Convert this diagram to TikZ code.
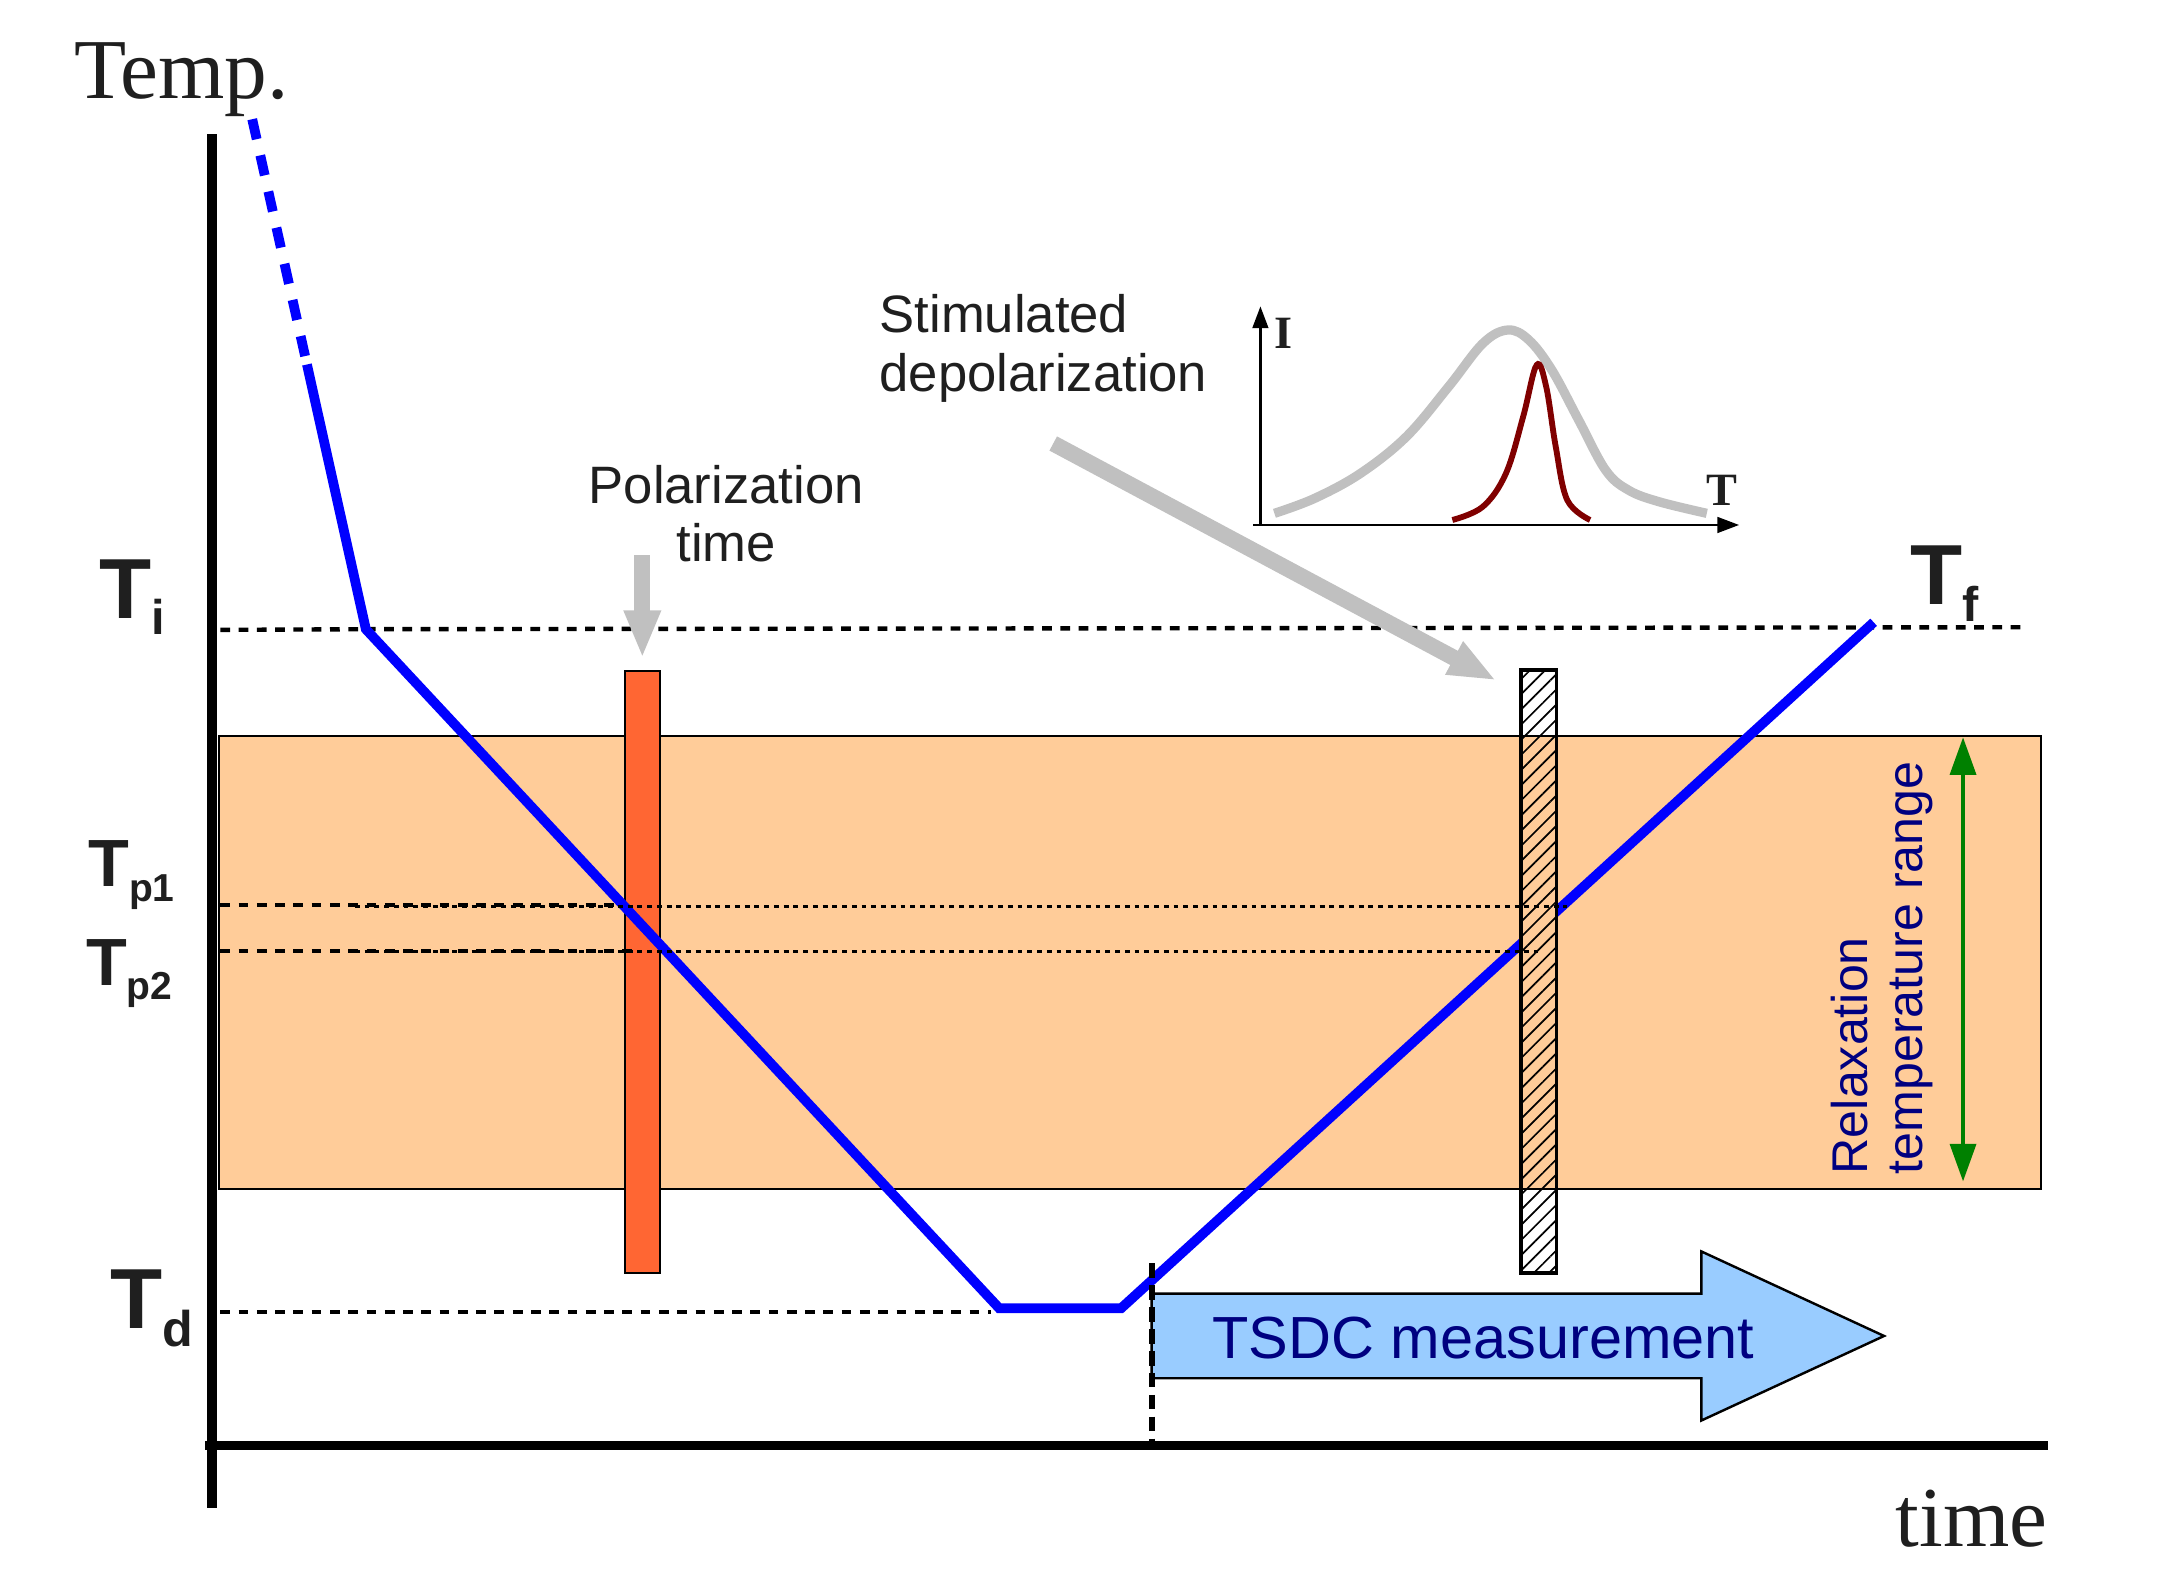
\documentclass[tikz,border=0pt]{standalone}
\usepackage{fontspec}
\setmainfont{Liberation Serif}
\setsansfont{Liberation Sans}
\usetikzlibrary{arrows.meta, patterns.meta}

\definecolor{ink}{HTML}{1F1F1F}
\definecolor{peach}{HTML}{FFCC99}
\definecolor{hotorange}{HTML}{FF6633}
\definecolor{skyblue}{HTML}{99CCFF}
\definecolor{navyblue}{HTML}{000080}
\definecolor{rangegreen}{HTML}{008000}
\definecolor{greypointer}{HTML}{C0C0C0}
\definecolor{peakred}{HTML}{800000}

\newcommand{\lowsub}[3]{\raisebox{-#1}{\fontsize{#2}{#2}\selectfont #3}}

\tikzstyle{mainaxis} = [line width=1.9pt]
\tikzstyle{inaxis} = [line width=0.6pt, -{Triangle[width=3.2pt,length=4.5pt]}]
\tikzstyle{ramp} = [blue, line width=2pt]
\tikzstyle{rampdash} = [ramp, dash pattern=on 4.2pt off 3.4pt]
\tikzstyle{levelline} = [line width=0.9pt, dash pattern=on 2pt off 1.75pt]
\tikzstyle{fineline} = [line width=0.5pt, dash pattern=on 1pt off 1pt]
\tikzstyle{startline} = [line width=1.2pt, dash pattern=on 3pt off 1.5pt]
\tikzstyle{relaxband} = [fill=peach, draw=black, line width=0.4pt]
\tikzstyle{polbar} = [rectangle, draw=black, line width=0.4pt, fill=hotorange,
  minimum width=0.25cm, minimum height=4.345cm, inner sep=0, outer sep=0]
\tikzstyle{depbar} = [rectangle, minimum width=0.255cm, minimum height=4.35cm,
  inner sep=0, outer sep=0]
\tikzstyle{hatch} = [pattern={Lines[angle=45,distance=2.2pt,line width=0.35pt]}]
\tikzstyle{pointer} = [greypointer, line width=3.3pt, -{Triangle[width=7pt,length=9.8pt]}]
\tikzstyle{spanarrow} = [rangegreen, line width=0.8pt,
  {Triangle[width=5.3pt,length=7.7pt]}-{Triangle[width=5.3pt,length=7.7pt]}]
\tikzstyle{bigarrow} = [fill=skyblue, draw=black, line width=0.5pt]
\tikzstyle{bigT} = [inner sep=0, anchor=base west, text=ink,
  font=\sffamily\bfseries\fontsize{17.5}{17.5}\selectfont]
\tikzstyle{smallT} = [bigT, font=\sffamily\bfseries\fontsize{13.7}{13.7}\selectfont]
\tikzstyle{axislabel} = [inner sep=0, text=ink, font=\fontsize{17.5}{17.5}\selectfont]
\tikzstyle{note} = [inner sep=0, text=ink, font=\sffamily\fontsize{10.8}{12}\selectfont]
\tikzstyle{inlabel} = [inner sep=0, text=ink, font=\bfseries\fontsize{9.5}{9.5}\selectfont]

\begin{document}
\begin{tikzpicture}[x=0.01cm, y=-0.01cm]
\useasboundingbox (0,0) rectangle (1568,1150);

\coordinate (rtop) at (158,531);
\coordinate (rbot) at (1473,858);
\filldraw [relaxband] (rtop) rectangle (rbot);

\node (polbar) [polbar] at (463.5,701.2) {};
\node (depbar) [depbar] at (1110.2,701) {};

\coordinate (b0) at (182,86);
\coordinate (b1) at (221.5,263);
\coordinate (b2) at (264,454);
\coordinate (b3) at (721,944);
\coordinate (b4) at (809,944);
\coordinate (b5) at (1352,449);

\draw [levelline] (159,454.5) -- (b2);
\draw [levelline] (b2) -- (1462,452.6);
\draw [levelline] (159,653) -- (452,653);
\draw [levelline] (159,686) -- (462,686);
\draw [levelline] (159,946.5) -- (715,946.5);

\draw [rampdash] (b0) -- (b1);
\draw [ramp] (b1) -- (b2) -- (b3) -- (b4) -- (b5);

\begin{scope}
\clip (depbar.south west) rectangle (depbar.north east);
\fill [white] (depbar.south west) rectangle (depbar.north east);
\filldraw [relaxband] (rtop) rectangle (rbot);
\end{scope}
\path [hatch] (depbar.south west) rectangle (depbar.north east);
\draw [line width=0.7pt] (depbar.south west) rectangle (depbar.north east);

\draw [fineline] (256,654) -- (1131,654);
\draw [fineline] (256,686.5) -- (1110,686.5);

\node (temp) [axislabel, anchor=base west] at (53,71) {Temp.};
\node (time) [axislabel, anchor=base east] at (1478,1116) {time};

\node (ti) [bigT] at (71,446) {T\lowsub{3.4pt}{10}{i}};
\node (tf) [bigT] at (1378,436.5) {T\lowsub{3.4pt}{10}{f}};
\node (tp1) [smallT] at (63,640) {T\lowsub{3pt}{8}{p1}};
\node (tp2) [smallT] at (61.5,711) {T\lowsub{3pt}{8}{p2}};
\node (td) [bigT] at (79,958.5) {T\lowsub{3.7pt}{10.3}{d}};

\node (poltext) [note, align=center, anchor=north] at (524,335) {Polarization\\time};
\node (deptext) [note, align=left, anchor=north west] at (634,212) {Stimulated\\depolarization};

\coordinate (polfrom) at (463.5,400.5);
\draw [pointer] (polfrom) -- ([yshift=0.09cm]polbar.north);
\coordinate (depfrom) at (760,320);
\draw [pointer] (depfrom) -- ([xshift=-0.178cm,yshift=-0.076cm]depbar.north west);

\coordinate (rangehi) at (1416.5,532);
\coordinate (rangelo) at (1416.5,852.5);
\draw [spanarrow] (rangehi) -- (rangelo);
\node (relax) [rotate=90, anchor=west, inner sep=0, align=left, text=navyblue,
  font=\sffamily\fontsize{10.3}{11.3}\selectfont] at (1358,848) {Relaxation\\temperature range};

\filldraw [bigarrow] (831,933.5) -- (1227.7,933.5) -- (1227.7,903) -- (1359.5,964)
  -- (1227.7,1025) -- (1227.7,994.5) -- (831,994.5) -- cycle;
\node (tsdc) [anchor=base, inner sep=0, text=navyblue,
  font=\sffamily\fontsize{12.2}{12.2}\selectfont] at (1070.5,980) {TSDC measurement};
\draw [startline] (831.5,911.5) -- (831.5,1040);

\draw [mainaxis] (153,97) -- (153,1088);
\draw [mainaxis] (148,1043) -- (1478,1043);

\draw [inaxis] (904.5,378.8) -- (1255,378.8);
\draw [inaxis] (909.5,378) -- (909.5,221);
\node (ilabel) [inlabel] at (926,240.5) {I};
\node (tlabel) [inlabel] at (1242.7,353.5) {T};
\draw [greypointer, line width=1.9pt] plot [smooth, tension=0.6] coordinates {
  (919.6,370.4) (948.6,359.6) (981.8,341.5) (1014.9,315) (1045.3,279)
  (1070.1,247.7) (1088.1,238.1) (1103.2,245.3) (1119.8,267) (1139.1,303)
  (1158.5,339.1) (1175,353.6) (1197,362) (1231.6,370.4)};
\draw [peakred, line width=1.2pt] plot [smooth, tension=0.6] coordinates {
  (1048,375.2) (1070,365.6) (1086.7,341.5) (1099.1,300.6) (1108.8,263.4)
  (1115.7,279) (1122.6,322.3) (1130.9,360.8) (1147.4,375.2)};

\end{tikzpicture}
\end{document}
